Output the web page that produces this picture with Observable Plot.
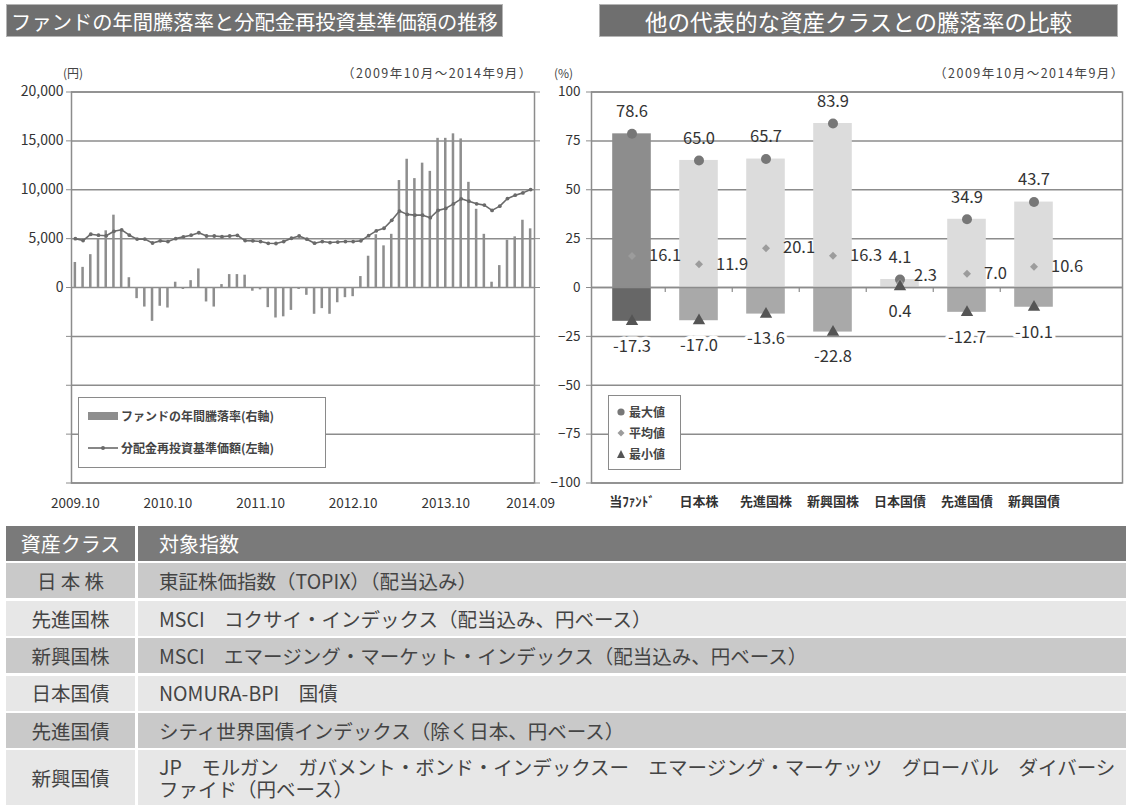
<!DOCTYPE html>
<html lang="ja"><head><meta charset="utf-8">
<script src="https://cdn.jsdelivr.net/npm/d3@7"></script>
<script src="https://cdn.jsdelivr.net/npm/@observablehq/plot@0.6"></script>
<style>
html,body{margin:0;padding:0;background:#fff;}
#root{position:relative;width:1126px;height:805px;overflow:hidden;font-family:"Noto Sans CJK JP","Noto Sans",sans-serif;color:#333;}
.tbar{position:absolute;background:#6f6f6f;color:#fff;display:flex;align-items:center;justify-content:center;white-space:nowrap;outline:1px solid #b5b5b5;}
.note{position:absolute;font-size:12px;color:#444;white-space:nowrap;line-height:1;}
.period{position:absolute;font-size:12.5px;letter-spacing:1.5px;color:#444;white-space:nowrap;line-height:1;}
.plotbox{position:absolute;}
.legend{position:absolute;background:#fff;border:1.5px solid #8a8a8a;box-sizing:border-box;font-size:12px;font-weight:bold;color:#444;}
.legrow{position:absolute;display:flex;align-items:center;white-space:nowrap;line-height:1;}
.cell{position:absolute;display:flex;align-items:center;box-sizing:border-box;color:#444;font-size:19.5px;line-height:1.1;}
</style></head><body><div id="root"></div>
<script>
// ---------- data ----------
const months = d3.range(60); // 2009.10 ... 2014.09
const fundReturn = [12.8,10.3,16.8,24.7,29,37,29,5,-5.7,-10,-17.3,-9.6,-10.5,2.7,-1,3.5,9.5,-7.4,-10,1.5,
  6.6,6.6,6.3,-1.9,-1.2,-10.3,-15.6,-15,-11.7,-1,-4,-13.7,-10.8,-13.7,-7.8,-5.2,-4.7,5.6,16,27,
  21.3,27.2,54.7,65.6,55.7,63.6,59.4,76.3,76.3,78.6,76,53.8,40,27.2,2.7,11.2,24.2,25.9,34.4,30];
const navValues = [5000,4800,5450,5350,5300,5750,5900,5350,4950,4950,4550,4770,4700,5000,5180,5350,5600,5270,5270,5200,
  5270,5340,4800,4770,4700,4520,4500,4700,5040,5270,4940,4530,4700,4600,4650,4700,4700,4770,5300,5800,
  6060,6870,7820,7480,7400,7400,7140,7890,8090,8560,9070,8830,8560,8430,7890,8320,9100,9440,9680,10020];
const xTickIndex = [0,12,24,36,48,59];
const xTickLabels = ["2009.10","2010.10","2011.10","2012.10","2013.10","2014.09"];
const pctTicks = [100,75,50,25,0,-25,-50,-75,-100];
const yenPerPct = 200; // left axis: 20,000円 ↔ 100%

const classes = ["当ﾌｧﾝﾄﾞ","日本株","先進国株","新興国株","日本国債","先進国債","新興国債"];
const maxValues = [78.6,65.0,65.7,83.9,4.1,34.9,43.7];
const avgValues = [16.1,11.9,20.1,16.3,2.3,7.0,10.6];
const minValues = [-17.3,-17.0,-13.6,-22.8,0.4,-12.7,-10.1];

const tableHeader = ["資産クラス","対象指数"];
const tableClasses = ["日 本 株","先進国株","新興国株","日本国債","先進国債","新興国債"];
const tableIndexes = [
  "東証株価指数（TOPIX）（配当込み）",
  "MSCI　コクサイ・インデックス（配当込み、円ベース）",
  "MSCI　エマージング・マーケット・インデックス（配当込み、円ベース）",
  "NOMURA-BPI　国債",
  "シティ世界国債インデックス（除く日本、円ベース）",
  "JP　モルガン　ガバメント・ボンド・インデックスー　エマージング・マーケッツ　グローバル　ダイバーシ\nファイド（円ベース）"
];

// ---------- layout ----------
const root = document.getElementById("root");
const font = '"Noto Sans CJK JP","Noto Sans",sans-serif';
function el(tag, cls, css, html){const e=document.createElement(tag); if(cls) e.className=cls; Object.assign(e.style, css||{}); if(html!==undefined) e.innerHTML=html; root.appendChild(e); return e;}

el("div","tbar",{left:"7px",top:"5px",width:"495px",height:"31px",fontSize:"20.3px"},"ファンドの年間騰落率と分配金再投資基準価額の推移");
el("div","tbar",{left:"600px",top:"5px",width:"517px",height:"31px",fontSize:"22.5px"},"他の代表的な資産クラスとの騰落率の比較");
el("div","note",{left:"63px",top:"67px"},"(円)");
el("div","period",{left:"342px",top:"67px"},"（2009年10月～2014年9月）");
el("div","note",{left:"554px",top:"67px"},"(%)");
el("div","period",{left:"934px",top:"67px"},"（2009年10月～2014年9月）");

// ---------- left chart ----------
const monthly = months.map(i => ({i, ret: fundReturn[i], nav: navValues[i]}));
const gridColor = "#8c8c8c";
const leftPlot = Plot.plot({
  width: 560, height: 470,
  marginTop: 31.5, marginBottom: 47.5, marginLeft: 71, marginRight: 26,
  x: {type: "band", domain: months, padding: 0},
  y: {domain: [-100, 100]},
  style: {fontFamily: font, background: "transparent", overflow: "visible"},
  marks: [
    Plot.ruleY(pctTicks, {stroke: gridColor, strokeWidth: 1.5}),
    Plot.barY(monthly, {x: "i", y: "ret", fill: "#8e8e8e", insetLeft: 2.6, insetRight: 2.6}),
    Plot.lineY(monthly, {x: "i", y: d => d.nav / yenPerPct, stroke: "#6a6a6a", strokeWidth: 1.6}),
    Plot.dot(monthly, {x: "i", y: d => d.nav / yenPerPct, r: 1.9, fill: "#6a6a6a"}),
    Plot.frame({stroke: gridColor, strokeWidth: 1.5}),
    Plot.axisY({ticks: pctTicks, anchor: "left", tickSize: 5, tickPadding: 3, stroke: gridColor, fill: "#333", fontSize: 14,
      tickFormat: d => d >= 0 ? d3.format(",")(d * yenPerPct) : "", label: null}),
    Plot.axisY({ticks: pctTicks, anchor: "right", tickSize: 5, stroke: gridColor, tickFormat: () => "", label: null}),
    Plot.axisX({ticks: xTickIndex, tickSize: 0, tickPadding: 15, fill: "#333", fontSize: 13.5,
      tickFormat: d => xTickLabels[xTickIndex.indexOf(d)], label: null})
  ]
});
const lb = el("div","plotbox",{left:"0px",top:"60px"}); lb.appendChild(leftPlot);

// left legend
const lleg = el("div","legend",{left:"78px",top:"397px",width:"248px",height:"71px"});
lleg.innerHTML = `
 <div class="legrow" style="left:9px;top:10px;height:16px"><span style="display:inline-block;width:30px;height:8px;background:#8e8e8e;margin-right:3px"></span>ファンドの年間騰落率(右軸)</div>
 <div class="legrow" style="left:9px;top:42px;height:16px"><svg width="30" height="10" style="margin-right:3px"><line x1="0" y1="5" x2="30" y2="5" stroke="#6a6a6a" stroke-width="1.6"/><circle cx="15" cy="5" r="2" fill="#6a6a6a"/></svg>分配金再投資基準価額(左軸)</div>`;

// ---------- right chart ----------
const stats = classes.map((c, k) => ({cat: c, max: maxValues[k], avg: avgValues[k], min: minValues[k], fund: k === 0}));
const step = 67.5;
const rightPlot = Plot.plot({
  width: 586, height: 470,
  marginTop: 31.5, marginBottom: 47.5, marginLeft: 51, marginRight: 4,
  x: {domain: classes, range: [56.5, 56.5 + 7 * step], padding: 0},
  y: {domain: [-100, 100]},
  style: {fontFamily: font, background: "transparent", overflow: "visible"},
  marks: [
    Plot.ruleY(pctTicks, {stroke: gridColor, strokeWidth: 1.5}),
    Plot.barY(stats, {x: "cat", y1: 0, y2: "max", fill: d => d.fund ? "#8d8d8d" : "#dcdcdc", insetLeft: 14.2, insetRight: 14.2}),
    Plot.barY(stats.filter(d => d.min < 0), {x: "cat", y1: "min", y2: 0, fill: d => d.fund ? "#676767" : "#a9a9a9", insetLeft: 14.2, insetRight: 14.2}),
    Plot.ruleY([0], {stroke: gridColor, strokeWidth: 1.5}),
    Plot.ruleX(classes.slice(1), {x: d => d, y1: 0, y2: -2.5, dx: -step / 2, stroke: gridColor, strokeWidth: 1.2}),
    Plot.dot(stats, {x: "cat", y: "max", r: 5, fill: "#777"}),
    Plot.dot(stats, {x: "cat", y: "avg", r: 3.6, symbol: "diamond2", fill: "#9c9c9c"}),
    Plot.dot(stats, {x: "cat", y: "min", r: 4.6, symbol: "triangle", fill: "#555"}),
    Plot.text(stats, {x: "cat", y: "max", text: d => d.max.toFixed(1), dy: -22, fontSize: 16.5, fill: "#333"}),
    Plot.text(stats.filter(d => d.cat !== "日本国債"), {x: "cat", y: "avg", text: d => d.avg.toFixed(1), dx: 17, textAnchor: "start", fontSize: 16.5, fill: "#333"}),
    Plot.text(stats.filter(d => d.cat === "日本国債"), {x: "cat", y: "avg", text: d => d.avg.toFixed(1), dx: 14, dy: -7, textAnchor: "start", fontSize: 16.5, fill: "#333"}),
    Plot.text(stats, {x: "cat", y: "min", text: d => d.min.toFixed(1), dy: 25, fontSize: 16.5, fill: "#333", stroke: "white", strokeWidth: 7}),
    Plot.frame({stroke: gridColor, strokeWidth: 1.5}),
    Plot.axisY({ticks: pctTicks, anchor: "left", tickSize: 5, tickPadding: 6, stroke: gridColor, fill: "#333", fontSize: 13.5, label: null}),
    Plot.axisX({tickSize: 0, tickPadding: 14, fill: "#333", fontSize: 13, fontWeight: "bold", label: null})
  ]
});
const rb = el("div","plotbox",{left:"540px",top:"60px"}); rb.appendChild(rightPlot);

const rleg = el("div","legend",{left:"608px",top:"395px",width:"73px",height:"75px"});
rleg.innerHTML = `
 <div class="legrow" style="left:6px;top:8px;height:16px"><svg width="12" height="12" style="margin-right:2px"><circle cx="6" cy="6" r="3.6" fill="#777"/></svg>最大値</div>
 <div class="legrow" style="left:6px;top:29px;height:16px"><svg width="12" height="12" style="margin-right:2px"><path d="M6 2.5L9.5 6L6 9.5L2.5 6Z" fill="#9c9c9c"/></svg>平均値</div>
 <div class="legrow" style="left:6px;top:50px;height:16px"><svg width="12" height="12" style="margin-right:2px"><path d="M6 2L10 10H2Z" fill="#555"/></svg>最小値</div>`;

// ---------- table ----------
const tTop = 526, rowStep = 37.4, rowH = 35, c1L = 6, c1W = 129, c2L = 138, c2W = 988;
el("div","cell",{left:c1L+"px",top:tTop+"px",width:c1W+"px",height:rowH+"px",background:"#7a7a7a",color:"#fff",justifyContent:"center",fontSize:"20px"},tableHeader[0]);
el("div","cell",{left:c2L+"px",top:tTop+"px",width:c2W+"px",height:rowH+"px",background:"#7a7a7a",color:"#fff",paddingLeft:"21px",fontSize:"20px"},tableHeader[1]);
tableClasses.forEach((c, k) => {
  const top = tTop + (k + 1) * rowStep;
  const h = k === tableClasses.length - 1 ? 805 - top : rowH;
  const bg = k % 2 === 0 ? "#c9c9c9" : "#e7e7e7";
  el("div","cell",{left:c1L+"px",top:top+"px",width:c1W+"px",height:h+"px",background:bg,justifyContent:"center"},c);
  el("div","cell",{left:c2L+"px",top:top+"px",width:c2W+"px",height:h+"px",background:bg,paddingLeft:"21px",whiteSpace:"pre-line"},tableIndexes[k]);
});
</script></body></html>
